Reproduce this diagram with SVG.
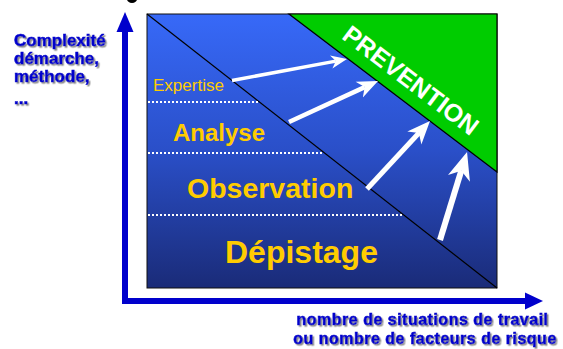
<svg xmlns="http://www.w3.org/2000/svg" width="563" height="349" viewBox="0 0 563 349">
  <defs>
    <linearGradient id="bg" x1="0" y1="0" x2="0" y2="1">
      <stop offset="0" stop-color="#3769f8"/>
      <stop offset="0.5" stop-color="#2a4fc8"/>
      <stop offset="1" stop-color="#1a2b78"/>
    </linearGradient>
    <marker id="wa" viewBox="0 0 12 10" refX="3.5" refY="5" markerWidth="4.6" markerHeight="4" markerUnits="strokeWidth" orient="auto">
      <path d="M0,0 L12,5 L0,10 L3.5,5 z" fill="#fff"/>
    </marker>
    <filter id="sh" x="-5%" y="-20%" width="115%" height="150%">
      <feDropShadow dx="1.5" dy="1.5" stdDeviation="0.4" flood-color="#8a8a8a" flood-opacity="1"/>
    </filter>
    <style>
      .lvl { font-family: "Liberation Sans", Arial, sans-serif; fill: #ffcc00; }
      .ax { font-family: "Liberation Sans", Arial, sans-serif; font-weight: bold; fill: #0000cc; stroke: #0000cc; stroke-width: 0.6; filter: url(#sh); }
      .dot { stroke: #ffffff; stroke-width: 2; stroke-dasharray: 2 2; fill: none; }
      .wa { stroke: #ffffff; fill: none; marker-end: url(#wa); }
      .axis { stroke: #0000cc; stroke-width: 6; fill: none; }
    </style>
  </defs>

  <ellipse cx="132" cy="-1" rx="5" ry="4" fill="#000"/>

  <g id="axes">
    <path class="axis" d="M125,30 L125,301 L527,301"/>
    <polygon points="125,12 116.5,32 133.5,32" fill="#0000cc"/>
    <polygon points="543,301 525,292.5 525,309.5" fill="#0000cc"/>
  </g>

  <g id="zone">
    <rect x="147" y="14" width="350" height="274" fill="url(#bg)" stroke="#111" stroke-width="1"/>
    <line x1="147" y1="14" x2="497" y2="288" stroke="#000" stroke-width="1.2"/>
    <line class="dot" x1="148" y1="102" x2="258" y2="102"/>
    <line class="dot" x1="148" y1="153" x2="324" y2="153"/>
    <line class="dot" x1="148" y1="215" x2="403" y2="215"/>
  </g>

  <g id="prevention">
    <polygon points="289,14 497,14 497,172" fill="#00cc00" stroke="#000" stroke-width="1.2"/>
    <text transform="translate(411,80) rotate(37.2)" x="0" y="9" text-anchor="middle" font-family="'Liberation Sans', Arial, sans-serif" font-weight="bold" font-size="25" fill="#ffffff">PREVENTION</text>
  </g>

  <g id="expertise"><text class="lvl" x="153" y="91" font-size="17">Expertise</text></g>
  <g id="analyse"><text class="lvl" x="173" y="141" font-size="24" font-weight="bold">Analyse</text></g>
  <g id="observation"><text class="lvl" x="187" y="198" font-size="28.5" font-weight="bold">Observation</text></g>
  <g id="depistage"><text class="lvl" x="225" y="263" font-size="32" font-weight="bold">Dépistage</text></g>

  <g id="connectors">
    <line class="wa" x1="232" y1="80.5" x2="335.8" y2="61.1" stroke-width="3.5"/>
    <line class="wa" x1="289" y1="122" x2="364.7" y2="87.1" stroke-width="4.5"/>
    <line class="wa" x1="367" y1="189" x2="418.9" y2="133" stroke-width="5"/>
    <line class="wa" x1="440" y1="240" x2="461.3" y2="170.7" stroke-width="6"/>
  </g>

  <g id="ylabel">
    <text class="ax" x="14" font-size="17">
      <tspan x="14" y="46">Complexité</tspan>
      <tspan x="14" y="64">démarche,</tspan>
      <tspan x="14" y="82">méthode,</tspan>
      <tspan x="14" y="104">...</tspan>
    </text>
  </g>

  <g id="xlabel">
    <text class="ax" text-anchor="middle" font-size="16" letter-spacing="0.5">
      <tspan x="425" y="325">nombre de situations de travail</tspan>
      <tspan x="425" y="344">ou nombre de facteurs de risque</tspan>
    </text>
  </g>
</svg>
